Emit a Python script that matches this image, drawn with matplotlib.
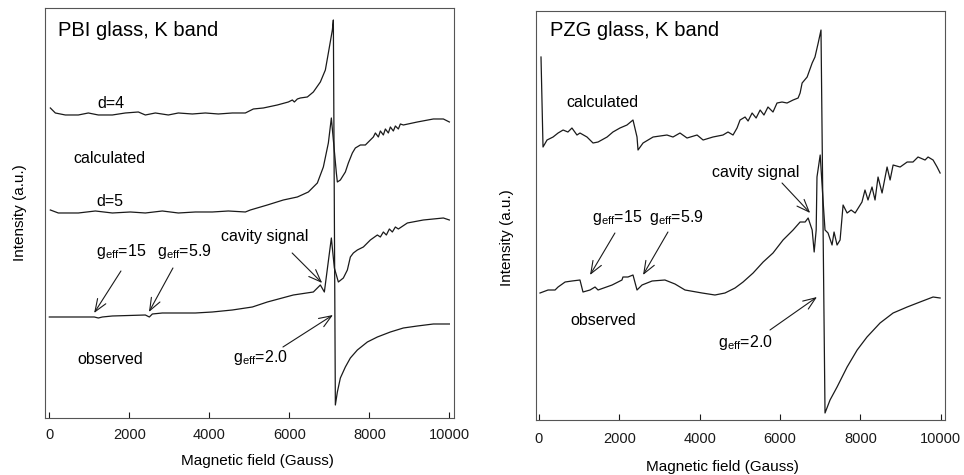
import matplotlib
matplotlib.use("Agg")
import matplotlib.pyplot as plt

plt.rcParams['font.family'] = ['Liberation Sans', 'DejaVu Sans']
plt.rcParams['mathtext.fontset'] = 'custom'
plt.rcParams['mathtext.rm'] = 'Liberation Sans'

# ---- PBI glass, K band (field in Gauss, intensity in a.u.) ----
pbi_d4_field = [25, 150, 400, 725, 975, 1225, 1575, 1900, 2225, 2400, 2650, 2975,
                3225, 3575, 3900, 4225, 4575, 4900, 5100, 5350, 5700, 5975, 6075,
                6125, 6200, 6275, 6450, 6600, 6775, 6900, 6975, 7075, 7100, 7150,
                7200, 7275, 7400, 7525, 7700, 7950, 8200, 8525, 8850, 9200, 9600, 10000]
pbi_d4_int = [310, 305, 303, 303, 305, 303, 303, 305, 306, 303, 305, 303,
              305, 304, 305, 304, 305, 305, 309, 310, 313, 316, 318,
              316, 319, 320, 321, 326, 336, 348, 365, 388, 398, 13,
              26, 40, 51, 60, 68, 76, 81, 86, 90, 92, 94, 94]

pbi_d5_field = [25, 225, 725, 1150, 1575, 2025, 2400, 2825, 3225, 3650, 4075, 4475,
                4900, 5025, 5450, 5850, 6200, 6475, 6700, 6850, 6975, 7050, 7100,
                7175, 7200, 7275, 7400, 7475, 7575, 7650, 7775, 7900, 8025, 8100,
                8150, 8225, 8275, 8350, 8400, 8475, 8525, 8600, 8650, 8725, 8775,
                8850, 9200, 9600, 9850, 10000]
pbi_d5_int = [208, 205, 205, 207, 205, 206, 205, 207, 205, 206, 206, 207,
              206, 208, 213, 218, 221, 226, 235, 251, 275, 300, 278,
              245, 236, 238, 246, 255, 265, 270, 273, 273, 278, 281,
              285, 281, 287, 283, 289, 285, 291, 287, 292, 289, 294,
              293, 296, 299, 299, 296]

pbi_obs_field = [0, 725, 1125, 1225, 1325, 1575, 2400, 2500, 2575, 2825, 3225, 3650,
                 4075, 4575, 5075, 5450, 6100, 6600, 6700, 6775, 6875, 7050, 7125,
                 7225, 7350, 7450, 7525, 7600, 7700, 7850, 8025, 8200, 8275, 8350,
                 8425, 8500, 8575, 8650, 8725, 8950, 9350, 9850, 10000]
pbi_obs_int = [101, 101, 101, 100, 101, 102, 103, 101, 104, 105, 105, 105,
               106, 108, 111, 116, 123, 126, 130, 133, 126, 180, 150,
               136, 140, 148, 161, 165, 168, 171, 178, 183, 181, 186,
               183, 189, 186, 191, 189, 195, 198, 200, 198]

# ---- PZG glass, K band ----
pzg_calc_field = [50, 100, 200, 350, 475, 600, 720, 820, 945, 1020, 1195, 1345, 1470,
                  1695, 1840, 2015, 2190, 2340, 2440, 2465, 2590, 2840, 3185, 3335,
                  3510, 3685, 3935, 4085, 4330, 4580, 4705, 4830, 4930, 5005, 5130,
                  5205, 5305, 5405, 5505, 5600, 5700, 5825, 5925, 6050, 6175, 6325,
                  6450, 6500, 6550, 6675, 6800, 6870, 6950, 7020, 7120, 7245, 7420,
                  7670, 7920, 8165, 8490, 8815, 9165, 9485, 9810, 9985]
pzg_calc_int = [363, 273, 280, 283, 287, 290, 288, 292, 285, 287, 283, 277, 278,
                283, 288, 292, 295, 300, 283, 270, 277, 283, 285, 283,
                287, 282, 285, 280, 283, 285, 288, 285, 292, 300, 303,
                299, 307, 302, 310, 305, 313, 308, 317, 318, 317, 320,
                322, 327, 337, 343, 357, 363, 377, 390, 7, 20, 33,
                53, 70, 83, 97, 107, 113, 118, 123, 122]

pzg_obs_field = [25, 225, 400, 475, 650, 820, 1020, 1095, 1270, 1395, 1470, 1820,
                 2065, 2090, 2215, 2340, 2440, 2565, 2815, 3135, 3385, 3635, 4060,
                 4380, 4630, 4880, 5080, 5330, 5580, 5825, 6075, 6325, 6500, 6625,
                 6700, 6800, 6850, 6900, 6920, 7000, 7070, 7120, 7195, 7295, 7345,
                 7420, 7495, 7570, 7670, 7770, 7870, 8040, 8115, 8190, 8290, 8365,
                 8440, 8540, 8665, 8740, 8815, 8990, 9165, 9310, 9435, 9610, 9685,
                 9810, 9910, 9985]
pzg_obs_int = [127, 130, 130, 133, 138, 139, 140, 128, 130, 133, 130, 135,
               140, 143, 143, 145, 130, 135, 139, 140, 136, 130, 127,
               125, 127, 132, 138, 147, 158, 167, 180, 190, 198, 198,
               202, 190, 168, 190, 243, 265, 220, 190, 187, 175, 188,
               175, 180, 215, 207, 210, 207, 218, 230, 220, 233, 220,
               243, 227, 253, 240, 255, 253, 258, 258, 263, 260, 263,
               260, 253, 247]

field_ticks = [0, 2000, 4000, 6000, 8000, 10000]
geff = r'$\mathregular{g_{eff}}$'

fig = plt.figure(figsize=(9.64, 4.75), dpi=100)
ax1 = fig.add_axes([0.0467, 0.12, 0.4243, 0.8632])
ax2 = fig.add_axes([0.556, 0.1158, 0.4243, 0.861])

line_kw = dict(color='#1a1a1a', lw=0.9)
arrow_kw = dict(arrowstyle='->,head_length=0.9,head_width=0.35', color='#1a1a1a',
                lw=0.8, shrinkA=0, shrinkB=0)
fs = 11.5

# left panel
ax1.plot(pbi_d4_field, pbi_d4_int, **line_kw)
ax1.plot(pbi_d5_field, pbi_d5_int, **line_kw)
ax1.plot(pbi_obs_field, pbi_obs_int, **line_kw)
ax1.set_xlim(-108, 10117)
ax1.set_ylim(0, 410)
ax1.text(220, 387, 'PBI glass, K band', fontsize=14.5, va='center')
ax1.text(1540, 314, 'd=4', fontsize=fs, ha='center', va='center')
ax1.text(1490, 259, 'calculated', fontsize=fs, ha='center', va='center')
ax1.text(1515, 216, 'd=5', fontsize=fs, ha='center', va='center')
ax1.text(5390, 181, 'cavity signal', fontsize=fs, ha='center', va='center')
ax1.text(1790, 166, geff + '=15', fontsize=fs, ha='center', va='center')
ax1.text(3370, 166, geff + '=5.9', fontsize=fs, ha='center', va='center')
ax1.text(1515, 58, 'observed', fontsize=fs, ha='center', va='center')
ax1.text(5270, 60, geff + '=2.0', fontsize=fs, ha='center', va='center')
ax1.annotate('', xy=(1120, 105), xytext=(1790, 147), arrowprops=arrow_kw)
ax1.annotate('', xy=(2490, 106), xytext=(3090, 150), arrowprops=arrow_kw)
ax1.annotate('', xy=(6820, 135), xytext=(6070, 165), arrowprops=arrow_kw)
ax1.annotate('', xy=(7090, 103), xytext=(5840, 71), arrowprops=arrow_kw)

# right panel
ax2.plot(pzg_calc_field, pzg_calc_int, **line_kw)
ax2.plot(pzg_obs_field, pzg_obs_int, **line_kw)
ax2.set_xlim(-75, 10107)
ax2.set_ylim(0, 409)
ax2.text(275, 390, 'PZG glass, K band', fontsize=14.5, va='center')
ax2.text(1570, 318, 'calculated', fontsize=fs, ha='center', va='center')
ax2.text(5400, 248, 'cavity signal', fontsize=fs, ha='center', va='center')
ax2.text(1940, 203, geff + '=15', fontsize=fs, ha='center', va='center')
ax2.text(3410, 203, geff + '=5.9', fontsize=fs, ha='center', va='center')
ax2.text(1590, 100, 'observed', fontsize=fs, ha='center', va='center')
ax2.text(5150, 77, geff + '=2.0', fontsize=fs, ha='center', va='center')
ax2.annotate('', xy=(1270, 145), xytext=(1890, 187), arrowprops=arrow_kw)
ax2.annotate('', xy=(2590, 145), xytext=(3210, 188), arrowprops=arrow_kw)
ax2.annotate('', xy=(6750, 207), xytext=(6050, 237), arrowprops=arrow_kw)
ax2.annotate('', xy=(6920, 123), xytext=(5750, 90), arrowprops=arrow_kw)

for ax, pad in ((ax1, 7), (ax2, 9)):
    ax.set_xticks(field_ticks)
    ax.set_yticks([])
    ax.tick_params(axis='x', direction='in', length=4, width=0.8, pad=pad,
                   labelsize=10.5, colors='#1a1a1a')
    for sp in ax.spines.values():
        sp.set_color('#555555')
        sp.set_linewidth(0.8)
    ax.set_xlabel('Magnetic field (Gauss)', fontsize=11)
    ax.set_ylabel('Intensity (a.u.)', fontsize=11)

ax1.xaxis.set_label_coords(0.52, -0.087)
ax1.yaxis.set_label_coords(-0.045, 0.5)
ax2.xaxis.set_label_coords(0.455, -0.099)
ax2.yaxis.set_label_coords(-0.054, 0.445)

fig.savefig('out.png', dpi=100)
